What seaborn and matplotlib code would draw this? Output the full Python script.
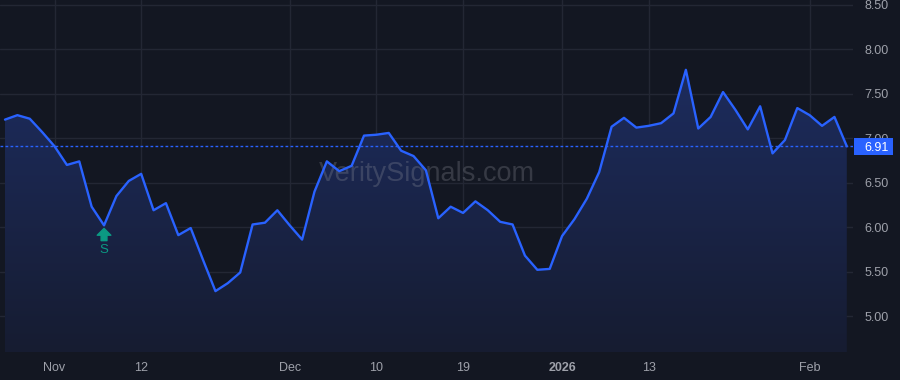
import numpy as np
import pandas as pd
import matplotlib
matplotlib.use("Agg")
import matplotlib.pyplot as plt
import seaborn as sns
from matplotlib.colors import LinearSegmentedColormap
from matplotlib.patches import PathPatch, Rectangle
from matplotlib.transforms import blended_transform_factory

# ---------------- data ----------------
holidays = ["2025-11-27", "2025-12-25", "2026-01-01", "2026-01-19"]
dates = pd.bdate_range("2025-10-28", "2026-02-05")
dates = dates[~dates.isin(pd.to_datetime(holidays))]

values = [
    7.21, 7.26, 7.22, 7.07, 6.91, 6.70, 6.74, 6.23, 6.02, 6.35,
    6.52, 6.60, 6.19, 6.27, 5.91, 5.99, 5.63, 5.28, 5.37, 5.49,
    6.03, 6.05, 6.19, 6.02, 5.86, 6.40, 6.74, 6.63, 6.69, 7.03,
    7.04, 7.06, 6.86, 6.80, 6.64, 6.10, 6.23, 6.16, 6.29, 6.19,
    6.06, 6.03, 5.68, 5.52, 5.53, 5.90, 6.09, 6.32, 6.62, 7.13,
    7.23, 7.12, 7.14, 7.17, 7.28, 7.77, 7.11, 7.24, 7.52, 7.32,
    7.10, 7.36, 6.83, 6.98, 7.34, 7.26, 7.14, 7.24, 6.91,
]

tick_dates = ["2025-11-03", "2025-11-12", "2025-12-01", "2025-12-10",
              "2025-12-19", "2026-01-02", "2026-01-13", "2026-02-02"]
tick_labels = ["Nov", "12", "Dec", "10", "19", "2026", "13", "Feb"]
y_ticks = [5.00, 5.50, 6.00, 6.50, 7.00, 7.50, 8.00, 8.50]
last_value = 6.91
signal_date = "2025-11-07"
signal_label = "S"
watermark = "VeritySignals.com"

df = pd.DataFrame({"idx": np.arange(len(dates)), "date": dates, "value": values})

# ---------------- style ----------------
BG = "#131722"
GRID = "#232734"
LINE = "#2962ff"
TXT = "#9ea1aa"
GREEN = "#0b9a83"

sns.set_theme(style="dark", rc={"axes.facecolor": BG, "figure.facecolor": BG})
plt.rcParams["font.family"] = ["Liberation Sans", "DejaVu Sans"]

fig = plt.figure(figsize=(9, 3.8), dpi=100, facecolor=BG)
W, H = 900, 380
ax = fig.add_axes([0, 28 / H, 853 / W, 352 / H])
ax.set_facecolor(BG)

ymin, ymax = 4.595, 8.556
xmin, xmax = -0.404, len(df) - 1 + 0.5

# gradient area fill
poly = ax.fill_between(df["idx"], df["value"], ymin, color="none", lw=0)
clip = PathPatch(poly.get_paths()[0], transform=ax.transData, facecolor="none", edgecolor="none")
ax.add_patch(clip)
cmap = LinearSegmentedColormap.from_list("g", ["#161c31", "#1d2c5e"])
grad = np.linspace(1, 0, 256).reshape(-1, 1)
im = ax.imshow(grad, extent=[0, len(df) - 1, ymin, max(values)], aspect="auto",
               cmap=cmap, origin="upper", zorder=1, interpolation="bicubic")
im.set_clip_path(clip)

# watermark
ax.text(0.5006, 0.505, watermark, transform=ax.transAxes, ha="center", va="center",
        fontsize=19.5, color="#9598a1", alpha=0.27, zorder=2.5)

# line
sns.lineplot(data=df, x="idx", y="value", color=LINE, lw=1.7, ax=ax, zorder=3)

# last value dotted line
ax.axhline(last_value, color=LINE, lw=1, ls=(0, (2, 1.6)), zorder=2.8)

# axes
ax.set_xlim(xmin, xmax)
ax.set_ylim(ymin, ymax)
tick_pos = [dates.get_loc(pd.Timestamp(d)) for d in tick_dates]
ax.set_xticks(tick_pos)
ax.set_xticklabels(tick_labels)
for lab in ax.get_xticklabels():
    if lab.get_text().isdigit() and len(lab.get_text()) == 4:
        lab.set_fontweight("bold")
        lab.set_color("#b8bbc3")
ax.yaxis.tick_right()
ax.set_yticks(y_ticks)
ax.set_yticklabels([f"{v:.2f}" for v in y_ticks])
ax.tick_params(axis="x", length=0, pad=7, labelsize=9, labelcolor=TXT)
ax.tick_params(axis="y", length=0, pad=8, labelsize=9, labelcolor=TXT)
ax.grid(True, color=GRID, lw=1)
ax.set_axisbelow(True)
for s in ax.spines.values():
    s.set_visible(False)
ax.set_xlabel("")
ax.set_ylabel("")

# price label
trans = blended_transform_factory(ax.transAxes, ax.transData)
upp = (ymax - ymin) / 352.0
rect = Rectangle((854 / 853, last_value - 8.5 * upp), 39 / 853, 17 * upp,
                 transform=trans, facecolor=LINE, edgecolor="none", clip_on=False, zorder=5)
ax.add_patch(rect)
ax.text(864 / 853, last_value, f"{last_value:.2f}", transform=trans, ha="left",
        va="center_baseline", color="white", fontsize=9, clip_on=False, zorder=6)

# signal marker
si = dates.get_loc(pd.Timestamp(signal_date))
sv = values[si]
ax.annotate("", xy=(si, sv), xytext=(0, -11), textcoords="offset points",
            arrowprops=dict(arrowstyle="simple,head_length=0.7,head_width=1.4,tail_width=0.6",
                            color=GREEN, shrinkA=0, shrinkB=2.2, mutation_scale=7), zorder=4)
ax.annotate(signal_label, xy=(si, sv), xytext=(0, -17.5), textcoords="offset points",
            ha="center", va="center", color=GREEN, fontsize=9.5, zorder=4)

fig.savefig("out.png", dpi=100, facecolor=BG)
